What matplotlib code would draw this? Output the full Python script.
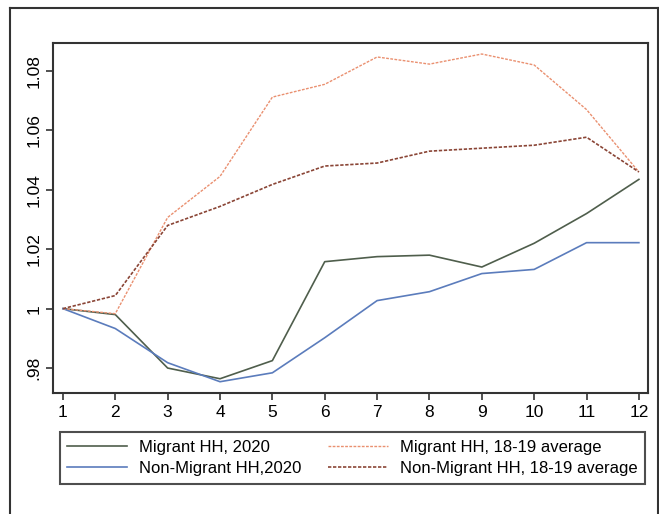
import matplotlib.pyplot as plt
from matplotlib.lines import Line2D

plt.rcParams['font.family'] = ['Liberation Sans', 'DejaVu Sans']

months = [1, 2, 3, 4, 5, 6, 7, 8, 9, 10, 11, 12]
migrant_2020 = [1.0, 0.998, 0.980, 0.9764, 0.9825, 1.0158, 1.0175, 1.018, 1.014, 1.022, 1.032, 1.0435]
nonmigrant_2020 = [1.0, 0.9933, 0.9818, 0.9754, 0.9784, 0.9902, 1.0027, 1.0057, 1.0118, 1.0132, 1.0222, 1.0222]
migrant_avg = [1.0, 0.9983, 1.0307, 1.0445, 1.0712, 1.0755, 1.0847, 1.0823, 1.0857, 1.082, 1.067, 1.046]
nonmigrant_avg = [1.0, 1.0044, 1.028, 1.0344, 1.0418, 1.048, 1.049, 1.053, 1.054, 1.055, 1.0577, 1.046]

yticks = [0.98, 1.0, 1.02, 1.04, 1.06, 1.08]
ytick_labels = ['.98', '1', '1.02', '1.04', '1.06', '1.08']

fig = plt.figure(figsize=(6.59, 5.14), dpi=100)
ax = fig.add_axes([0.0804, 0.2354, 0.9026, 0.6809])

ax.plot(months, migrant_2020, color='#4f5e4c', lw=1.2, label='Migrant HH, 2020')
ax.plot(months, nonmigrant_2020, color='#5b7cbc', lw=1.2, label='Non-Migrant HH,2020')
ax.plot(months, migrant_avg, color='#ea9070', lw=1.0, ls=(0, (2, 1)), label='Migrant HH, 18-19 average')
ax.plot(months, nonmigrant_avg, color='#8a4536', lw=1.2, ls=(0, (2, 1)), label='Non-Migrant HH, 18-19 average')

ax.set_xlim(0.81, 12.17)
ax.set_ylim(0.9716, 1.0894)
ax.set_xticks(months)
ax.set_yticks(yticks)
ax.set_yticklabels(ytick_labels, rotation=90, va='center')
ax.tick_params(labelsize=12.5, direction='out', length=5, width=1.2, color='#333333')
for s in ax.spines.values():
    s.set_linewidth(1.5)
    s.set_color('#333333')

handles, labels = ax.get_legend_handles_labels()
leg = fig.legend(handles, labels,
                 ncol=2, loc='upper left', bbox_to_anchor=(0.091, 0.0584, 0.888, 0.101),
                 mode='expand', fontsize=12, handlelength=3.6, handletextpad=0.7,
                 borderaxespad=0, fancybox=False, frameon=True, labelspacing=0.4,
                 borderpad=0.45)
leg.get_frame().set_edgecolor('#222222')
leg.get_frame().set_linewidth(1.5)

# outer frame
W, H = 659, 514
fig.add_artist(Line2D([10 / W, 10 / W], [0, 1 - 8 / H], color='#333333', lw=1.5))
fig.add_artist(Line2D([10 / W, 658 / W], [1 - 8 / H, 1 - 8 / H], color='#333333', lw=1.5))
fig.add_artist(Line2D([658 / W, 658 / W], [0, 1 - 8 / H], color='#333333', lw=1.5))

fig.savefig('out.png', dpi=100)
